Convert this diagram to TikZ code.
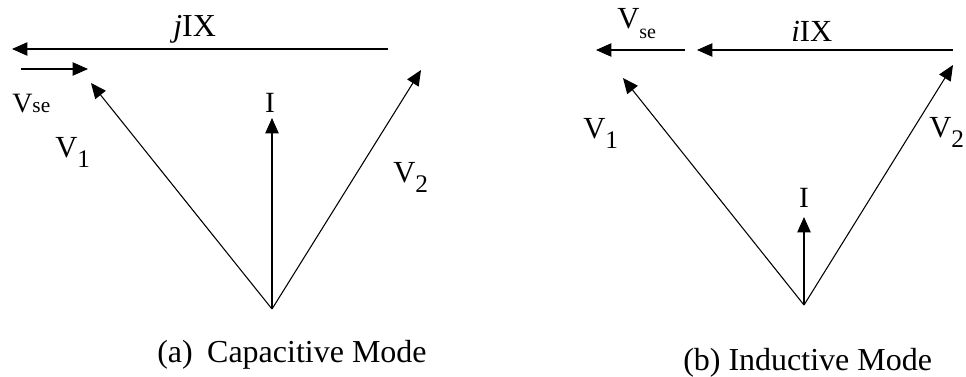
\documentclass[tikz,border=0pt]{standalone}
\usepackage{fontspec}
\setmainfont{Liberation Serif}
\usetikzlibrary{arrows.meta}
\newcommand\vsubl[1]{\lower7.5pt\hbox{\fontsize{19}{22}\selectfont #1}}
\begin{document}
\begin{tikzpicture}[x=0.75pt,y=-0.75pt,
  vec/.style={line width=0.8pt,-{Triangle[length=11.5pt,width=10pt]}},
  lbl/.style={inner sep=0pt,anchor=base west,font=\fontsize{23}{26}\selectfont},
  captxt/.style={inner sep=0pt,anchor=base west,font=\fontsize{24}{28}\selectfont}]
\useasboundingbox (0,0) rectangle (966,376);
% ---------- (a) capacitive ----------
\coordinate (Oa) at (272,309);
\coordinate (Ia) at (272,118);
\coordinate (V1a) at (91,83);
\coordinate (V2a) at (421,70);
\coordinate (XaS) at (388,49);
\coordinate (XaE) at (12,49);
\coordinate (SaS) at (21,69);
\coordinate (SaE) at (88,69);
\draw[vec] (Oa) -- (Ia);
\draw[vec] (Oa) -- (V1a);
\draw[vec] (Oa) -- (V2a);
\draw[vec] (XaS) -- (XaE);
\draw[vec] (SaS) -- (SaE);
\node[lbl,font=\fontsize{24}{28}\selectfont] (jIXa) at (173,36) {\textit{j}IX};
\node[lbl,font=\fontsize{21}{24}\selectfont] (Vsea) at (12,112) {V{\fontsize{16}{18}\selectfont se}};
\node[lbl] (V1la) at (55,157) {V\vsubl{1}};
\node[lbl,font=\fontsize{22}{26}\selectfont,anchor=base] (Ila) at (270,112) {I};
\node[lbl] (V2la) at (393,182) {V\vsubl{2}};
\node[captxt] (capa) at (157,362) {(a)\hspace{0.45em}Capacitive Mode};
% ---------- (b) inductive ----------
\coordinate (Ob) at (804,305);
\coordinate (Ib) at (804,217);
\coordinate (V1b) at (623,78);
\coordinate (V2b) at (953,65);
\coordinate (XbS) at (953,50);
\coordinate (XbE) at (697,50);
\coordinate (SbS) at (685,50);
\coordinate (SbE) at (596,50);
\draw[vec] (Ob) -- (Ib);
\draw[vec] (Ob) -- (V1b);
\draw[vec] (Ob) -- (V2b);
\draw[vec] (XbS) -- (XbE);
\draw[vec] (SbS) -- (SbE);
\node[lbl,font=\fontsize{23}{26}\selectfont] (iIXb) at (791,41) {\textit{i}IX};
\node[lbl] (Vseb) at (617,28) {V\lower7.5pt\hbox{\fontsize{15}{17}\selectfont se}};
\node[lbl] (V1lb) at (583,138) {V\vsubl{1}};
\node[lbl,font=\fontsize{22}{26}\selectfont,anchor=base] (Ilb) at (804,207) {I};
\node[lbl] (V2lb) at (929,137) {V\vsubl{2}};
\node[captxt] (capb) at (683,370) {(b) Inductive Mode};
\end{tikzpicture}
\end{document}
